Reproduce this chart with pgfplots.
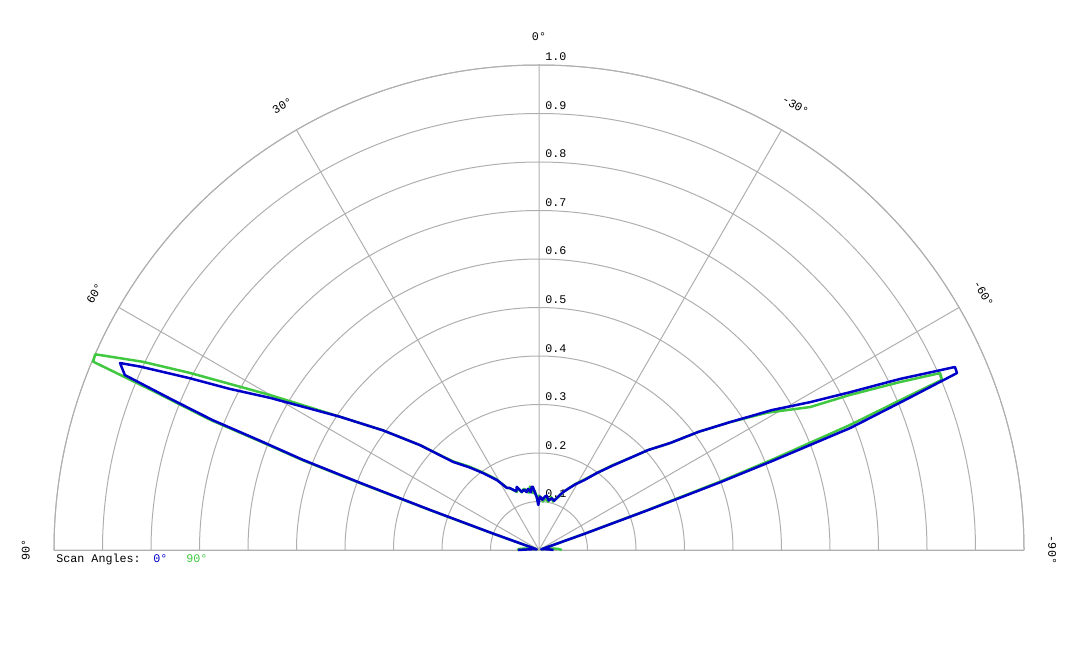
\documentclass[border=0pt]{standalone}
\usepackage{fontspec}
\setmainfont{Liberation Mono}
\usepackage{pgfplots}
\usepackage{pgfplotstable}
\pgfplotsset{compat=1.18}
\usepgfplotslibrary{polar}
\definecolor{gridgray}{RGB}{175,175,175}
\definecolor{sblue}{RGB}{0,0,200}
\definecolor{sgreen}{RGB}{64,200,64}

% a = scan angle in degrees (0 at top, positive to the left), r = normalised value
\pgfplotstableread{
a r
-90 0.030
-86 0.020
-80 0.010
-74 0.005
-70.9 0.020
-70.4 0.100
-69.9 0.243
-69.5 0.400
-69.1 0.520
-68.6 0.689
-67.7 0.820
-67.1 0.927
-67.05 0.936
-66.25 0.937
-65.5 0.880
-64.65 0.824
-63.1 0.719
-61.4 0.637
-59 0.560
-56.2 0.474
-53.5 0.410
-50.8 0.349
-47.5 0.305
-44.7 0.267
-41 0.230
-37 0.199
-33 0.172
-29 0.155
-25.5 0.140
-22.5 0.129
-20 0.118
-17 0.106
-14 0.110
-11 0.104
-8 0.113
-6.4 0.111
-4 0.104
-1.1 0.110
0.9 0.093
2.5 0.110
4.0 0.118
5.5 0.131
6.6 0.131
8 0.120
10.1 0.128
12 0.122
14 0.128
16.5 0.125
19.4 0.138
21 0.130
23.2 0.135
25.5 0.142
27.3 0.144
31 0.168
36 0.196
40 0.222
44.3 0.254
48.6 0.327
52.5 0.405
56.2 0.494
60.5 0.637
62.5 0.720
63.8 0.802
65.3 0.905
65.95 0.946
67.1 0.927
67.7 0.820
68.3 0.724
68.6 0.620
69.1 0.521
69.4 0.400
69.8 0.240
70.3 0.100
70.8 0.020
74 0.005
80 0.010
86 0.020
90 0.043
}\bluedata

\pgfplotstableread{
a r
-90 0.047
-87 0.040
-84 0.030
-78 0.010
-74 0.005
-70.8 0.020
-70.3 0.100
-69.8 0.240
-69.3 0.400
-68.8 0.520
-68.1 0.691
-67.5 0.800
-67.1 0.902
-66.2 0.904
-65.05 0.821
-63.5 0.717
-62.2 0.632
-59 0.550
-56.2 0.474
-53.5 0.410
-50.8 0.349
-47.5 0.305
-44.7 0.267
-41 0.232
-37 0.199
-33 0.174
-29 0.156
-25.5 0.140
-22.5 0.129
-20.5 0.118
-18.8 0.113
-16.2 0.104
-13 0.112
-10.5 0.101
-8.8 0.104
-6.5 0.108
-4.7 0.100
-2.5 0.108
0 0.112
2 0.105
4 0.122
6.0 0.118
8.1 0.132
10 0.120
11.6 0.126
14 0.130
16.5 0.124
19.4 0.136
21 0.128
23.2 0.135
25.5 0.141
27.3 0.144
31 0.170
36 0.198
40 0.225
44.3 0.256
48.6 0.327
52.5 0.405
56.2 0.494
60.05 0.640
63.1 0.807
64.6 0.905
66.2 1.000
67.1 0.998
67.6 0.860
68.4 0.729
68.7 0.620
69.2 0.521
69.5 0.400
69.9 0.240
70.4 0.100
70.9 0.020
74 0.005
78 0.010
84 0.030
87 0.040
90 0.045
}\greendata

\begin{document}
\begin{tikzpicture}[font=\fontsize{5.85}{7}\selectfont]
\begin{polaraxis}[
  scale only axis, width=485pt, height=485pt,
  xmin=0, xmax=180, ymin=0, ymax=1,
  xtick={0,30,60,90,120,150,180},
  ytick={0.1,0.2,0.3,0.4,0.5,0.6,0.7,0.8,0.9,1.0},
  xticklabels={}, yticklabels={},
  grid=major,
  major grid style={draw=gridgray, line width=0.5pt},
  axis line style={draw=gridgray, line width=0.5pt},
  major tick length=0pt,
  clip=false,
]
\coordinate (C) at (axis cs:0,0);
% radial value labels
\node[anchor=base west, inner sep=0pt, xshift=3pt, yshift=2pt] at (axis cs:90,0.1) {0.1};
\node[anchor=base west, inner sep=0pt, xshift=3pt, yshift=2pt] at (axis cs:90,0.2) {0.2};
\node[anchor=base west, inner sep=0pt, xshift=3pt, yshift=2pt] at (axis cs:90,0.3) {0.3};
\node[anchor=base west, inner sep=0pt, xshift=3pt, yshift=2pt] at (axis cs:90,0.4) {0.4};
\node[anchor=base west, inner sep=0pt, xshift=3pt, yshift=2pt] at (axis cs:90,0.5) {0.5};
\node[anchor=base west, inner sep=0pt, xshift=3pt, yshift=2pt] at (axis cs:90,0.6) {0.6};
\node[anchor=base west, inner sep=0pt, xshift=3pt, yshift=2pt] at (axis cs:90,0.7) {0.7};
\node[anchor=base west, inner sep=0pt, xshift=3pt, yshift=2pt] at (axis cs:90,0.8) {0.8};
\node[anchor=base west, inner sep=0pt, xshift=3pt, yshift=2pt] at (axis cs:90,0.9) {0.9};
\node[anchor=base west, inner sep=0pt, xshift=3pt, yshift=2pt] at (axis cs:90,1.0) {1.0};
% angle labels
\node[rotate=0]   at (axis cs:90,1.058)  {0°};
\node[rotate=30]  at (axis cs:120,1.058) {30°};
\node[rotate=60]  at (axis cs:150,1.058) {60°};
\node[rotate=90]  at (axis cs:180,1.058) {90°};
\node[rotate=-30] at (axis cs:60,1.058)  {-30°};
\node[rotate=-60] at (axis cs:30,1.058)  {-60°};
\node[rotate=-90] at (axis cs:0,1.058)   {-90°};
\addplot[sgreen, line width=1.25pt, line join=round] table[x expr=\thisrow{a}+90, y=r] {\greendata};
\addplot[sblue, line width=1.25pt, line join=round] table[x expr=\thisrow{a}+90, y=r] {\bluedata};
\end{polaraxis}
\node[anchor=base west, inner sep=0pt] at ([xshift=-241.5pt, yshift=-6pt]C) {Scan Angles:};
\node[anchor=base west, inner sep=0pt, text=sblue] at ([xshift=-193pt, yshift=-6pt]C) {0°};
\node[anchor=base west, inner sep=0pt, text=sgreen] at ([xshift=-176.5pt, yshift=-6pt]C) {90°};
\pgfresetboundingbox
\path[use as bounding box] (C) ++(-269.5pt,-49pt) rectangle ++(540pt,324pt);
\end{tikzpicture}
\end{document}
